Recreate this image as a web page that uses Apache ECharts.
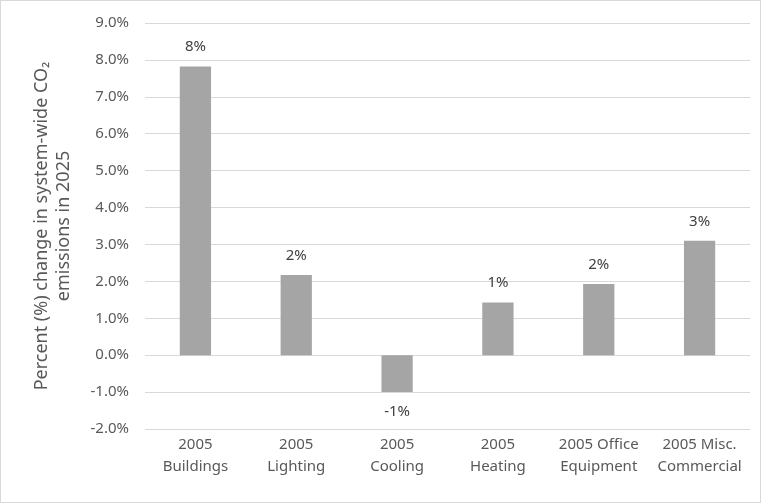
<!DOCTYPE html>
<html>
<head>
<meta charset="utf-8">
<script src="https://cdn.jsdelivr.net/npm/echarts@6/dist/echarts.min.js"></script>
<style>
  html, body { margin: 0; padding: 0; background: #fff; }
  #chart { width: 759px; height: 501px; border: 1px solid #d9d9d9; }
</style>
</head>
<body>
<div id="chart"></div>
<script>
// categories and values
const categories = ['2005\nBuildings', '2005\nLighting', '2005\nCooling', '2005\nHeating', '2005 Office\nEquipment', '2005 Misc.\nCommercial'];
const changes = [7.82, 2.17, -1.0, 1.43, 1.93, 3.1];

const chart = echarts.init(document.getElementById('chart'));

const font = 'Noto Sans, Open Sans, sans-serif';

chart.setOption({
  animation: false,
  grid: { left: 144, right: 10, top: 22, bottom: 73 },
  xAxis: {
    type: 'category',
    data: categories,
    axisLine: { show: false, onZero: false },
    axisTick: { show: false },
    axisLabel: {
      color: '#595959',
      fontFamily: font,
      fontSize: 15,
      lineHeight: 22,
      margin: 5,
      interval: 0
    }
  },
  yAxis: {
    type: 'value',
    min: -2,
    max: 9,
    interval: 1,
    name: 'Percent (%) change in system-wide CO\u2082\nemissions in 2025',
    nameLocation: 'middle',
    nameGap: 70,
    nameTextStyle: {
      color: '#595959',
      fontFamily: font,
      fontSize: 18,
      lineHeight: 22
    },
    axisLabel: {
      color: '#595959',
      fontFamily: font,
      fontSize: 15,
      margin: 16,
      formatter: v => v.toFixed(1) + '%'
    },
    splitLine: { lineStyle: { color: '#d9d9d9', width: 1 } },
    axisLine: { show: false },
    axisTick: { show: false }
  },
  series: [{
    type: 'bar',
    data: changes,
    barWidth: '31%',
    itemStyle: { color: '#a5a5a5' },
    label: {
      show: true,
      position: 'outside',
      distance: 12,
      color: '#404040',
      fontFamily: font,
      fontSize: 15,
      formatter: p => Math.round(p.value) + '%'
    }
  }]
});
</script>
</body>
</html>
